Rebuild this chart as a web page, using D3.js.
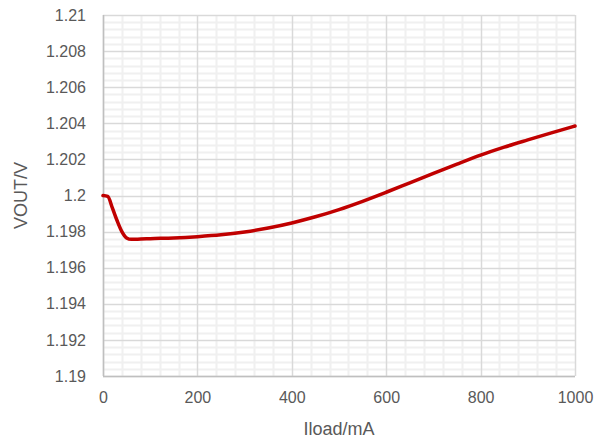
<!DOCTYPE html>
<html><head><meta charset="utf-8">
<script src="https://cdn.jsdelivr.net/npm/d3@7"></script>
<style>body{margin:0;background:#fff}svg{display:block}text{font-family:"Liberation Sans",Arial,sans-serif;fill:#595959}</style>
</head><body><svg id="c" width="598" height="443"></svg>
<script>
const iload = [0,10,20,30,40,50,60,80,100,150,200,250,300,350,400,450,500,550,600,650,700,750,800,850,900,950,1000];
const vout  = [1.2,1.19995,1.1993,1.1986,1.198,1.19765,1.19757,1.19759,1.19761,1.19765,1.19772,1.19782,1.19798,1.1982,1.19848,1.19882,1.19922,1.19968,1.20018,1.2007,1.20122,1.20174,1.20224,1.20268,1.20308,1.20347,1.20385];
const xTicks = [0,200,400,600,800,1000];
const yTicks = [1.19,1.192,1.194,1.196,1.198,1.2,1.202,1.204,1.206,1.208,1.21];
const yTickLabels = ["1.19","1.192","1.194","1.196","1.198","1.2","1.202","1.204","1.206","1.208","1.21"];

const svg = d3.select("#c");
const L=103,R=575,T=15,B=376;
const x = d3.scaleLinear().domain([0,1000]).range([L,R]);
const y = d3.scaleLinear().domain([1.19,1.21]).range([B,T]);

const g = svg.append("g");
const xMinor = d3.range(0,1001,40).filter(v=>v%200!==0);
const yMinor = d3.range(0,51).map(i=>1.19+i*0.0004).filter((v,i)=>i%5!==0);
g.selectAll(".xm").data(xMinor).enter().append("line")
 .attr("x1",d=>Math.round(x(d))+0.5).attr("x2",d=>Math.round(x(d))+0.5).attr("y1",T).attr("y2",B)
 .attr("stroke","#f0f0f0").attr("stroke-width",2);
g.selectAll(".ym").data(yMinor).enter().append("line")
 .attr("y1",d=>Math.round(y(d))+0.5).attr("y2",d=>Math.round(y(d))+0.5).attr("x1",L).attr("x2",R)
 .attr("stroke","#f0f0f0").attr("stroke-width",2);
g.selectAll(".xM").data(xTicks).enter().append("line")
 .attr("x1",d=>Math.round(x(d))+0.5).attr("x2",d=>Math.round(x(d))+0.5).attr("y1",T).attr("y2",B)
 .attr("stroke","#d9d9d9").attr("stroke-width",1.5);
g.selectAll(".yM").data(yTicks).enter().append("line")
 .attr("y1",d=>Math.round(y(d))+0.5).attr("y2",d=>Math.round(y(d))+0.5).attr("x1",L).attr("x2",R)
 .attr("stroke","#d9d9d9").attr("stroke-width",1.5);
g.append("line").attr("x1",L+0.5).attr("x2",L+0.5).attr("y1",T).attr("y2",B).attr("stroke","#bfbfbf").attr("stroke-width",1.5);
g.append("line").attr("x1",L).attr("x2",R).attr("y1",B+0.5).attr("y2",B+0.5).attr("stroke","#bfbfbf").attr("stroke-width",1.5);

const xAxis = svg.append("g").attr("transform",`translate(0,${B})`)
 .call(d3.axisBottom(x).tickValues(xTicks).tickSize(0).tickPadding(16).tickFormat(d3.format("d")));
xAxis.select(".domain").remove();
xAxis.selectAll("text").attr("font-size",16).style("font-family","'Liberation Sans',Arial,sans-serif").attr("fill","#595959");
const yAxis = svg.append("g").attr("transform",`translate(${L},0)`)
 .call(d3.axisLeft(y).tickValues(yTicks).tickSize(0).tickPadding(17).tickFormat((d,i)=>yTickLabels[i]));
yAxis.select(".domain").remove();
yAxis.selectAll("text").attr("font-size",16).style("font-family","'Liberation Sans',Arial,sans-serif").attr("fill","#595959");

const data = iload.map((d,i)=>[d,vout[i]]);
svg.append("path").datum(data)
 .attr("d",d3.line().x(d=>x(d[0])).y(d=>y(d[1])).curve(d3.curveMonotoneX))
 .attr("fill","none").attr("stroke","#c00000").attr("stroke-width",3.5).attr("stroke-linejoin","round").attr("stroke-linecap","round");

svg.append("text").attr("x",(L+R)/2).attr("y",435).attr("text-anchor","middle").attr("font-size",18).text("Iload/mA");
svg.append("text").attr("transform",`translate(27,${(T+B)/2}) rotate(-90)`).attr("text-anchor","middle").attr("font-size",18).text("VOUT/V");
</script></body></html>
